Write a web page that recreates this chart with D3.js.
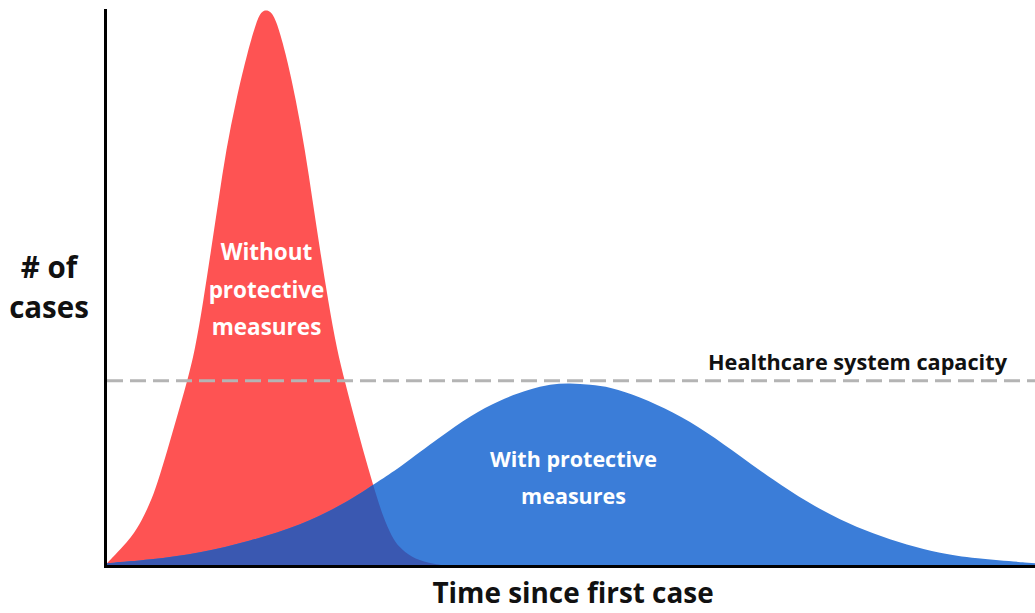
<!DOCTYPE html>
<html>
<head>
<meta charset="utf-8">
<script src="https://cdn.jsdelivr.net/npm/d3@7"></script>
<style>
  body { margin: 0; background: #fff; }
  text { font-family: "Open Sans", Lato, sans-serif; font-weight: 700; }
</style>
</head>
<body>
<div id="chart"></div>
<script>
// curve without protective measures (days since first case, cases)
const redDays  = [0, 0.75, 3.13, 4.38, 5.38, 6.31, 7.56, 8.75, 10, 11, 12.06, 13, 13.94, 14.88, 16.13, 17.63, 18.75, 19.3, 19.88,
                  20.5, 21.13, 22.25, 23.63, 24.75, 25.69, 26.63, 27.63, 28.75, 29.75, 30.88, 32, 33.19, 34.5, 35.63, 36.5, 38, 40.13, 42.88];
const redCases = [5, 16, 52, 83, 113, 149, 209, 268, 331, 388, 478, 568, 658, 748, 838, 928, 982, 997, 1000,
                  997, 982, 928, 838, 748, 658, 568, 478, 388, 331, 268, 209, 149, 88, 52, 34, 16, 5, 0];

// curve with protective measures
const blueDays  = [0, 5.38, 11.63, 17.88, 24.13, 30.38, 34.5, 36.63, 41.63, 45.38, 49.13, 52.88, 55.4, 57.88,
                   60.4, 62.88, 66.63, 70.75, 75, 79.13, 83.25, 87.5, 91.63, 95.75, 100, 104.13, 108.25, 116];
const blueCases = [5, 11, 23, 45, 72, 117, 158, 178, 232, 270, 299, 318, 327, 329,
                   326, 322, 304, 277, 241, 198, 155, 115, 83, 58, 38, 23, 14, 5];

const capacity = 333;
const capacityLabel = "Healthcare system capacity";
const yLabel = ["# of", "cases"];
const xLabel = "Time since first case";
const redLabel = ["Without", "protective", "measures"];
const blueLabel = ["With protective", "measures"];

const W = 1035, H = 613;
const svg = d3.select("#chart").append("svg")
    .attr("width", W)
    .attr("height", H);

const x = d3.scaleLinear().domain([0, 116]).range([107, 1035]);
const y = d3.scaleLinear().domain([0, 1000]).range([566, 10]);

const red = redDays.map((d, i) => ({ day: d, cases: redCases[i] }));
const blue = blueDays.map((d, i) => ({ day: d, cases: blueCases[i] }));

const area = d3.area()
    .x(d => x(d.day))
    .y0(y(0))
    .y1(d => y(d.cases))
    .curve(d3.curveBasis);

svg.append("clipPath")
    .attr("id", "red-clip")
    .append("path")
    .attr("d", area(red));

svg.append("path")
    .attr("d", area(red))
    .attr("fill", "#fe5353");

svg.append("path")
    .attr("d", area(blue))
    .attr("fill", "#3b7dd8");

// overlap of the two curves
svg.append("path")
    .attr("d", area(blue))
    .attr("clip-path", "url(#red-clip)")
    .attr("fill", "#3a58b1");

// capacity line
svg.append("line")
    .attr("x1", x(0))
    .attr("x2", x(116))
    .attr("y1", y(capacity))
    .attr("y2", y(capacity))
    .attr("stroke", "#b4b4b4")
    .attr("stroke-width", 3)
    .attr("stroke-dasharray", "16,7");

svg.append("text")
    .attr("x", 708)
    .attr("y", 370)
    .attr("font-size", 21.7)
    .attr("fill", "#111")
    .text(capacityLabel);

// axes
svg.append("line")
    .attr("x1", 105.5).attr("x2", 105.5)
    .attr("y1", 9).attr("y2", 568)
    .attr("stroke", "#000").attr("stroke-width", 3);

svg.append("line")
    .attr("x1", 104).attr("x2", W)
    .attr("y1", 566.5).attr("y2", 566.5)
    .attr("stroke", "#000").attr("stroke-width", 3);

svg.append("text")
    .attr("x", 573)
    .attr("y", 603)
    .attr("text-anchor", "middle")
    .attr("font-size", 27.9)
    .attr("fill", "#111")
    .text(xLabel);

// y label as one text with two lines
const yText = svg.append("text")
    .attr("text-anchor", "middle")
    .attr("font-size", 29.5)
    .attr("fill", "#111");
yLabel.forEach((t, i) => {
    yText.append("tspan")
        .attr("x", 49)
        .attr("y", 277.5 + i * 40.5)
        .text(t);
});

const redText = svg.append("text")
    .attr("text-anchor", "middle")
    .attr("font-size", 22.5)
    .attr("fill", "#fff");
redLabel.forEach((t, i) => {
    redText.append("tspan")
        .attr("x", 266.5)
        .attr("y", 260 + i * 37.5)
        .text(t);
});

const blueText = svg.append("text")
    .attr("text-anchor", "middle")
    .attr("font-size", 21.5)
    .attr("fill", "#fff");
blueLabel.forEach((t, i) => {
    blueText.append("tspan")
        .attr("x", 573.5)
        .attr("y", 467 + i * 37)
        .text(t);
});
</script>
</body>
</html>
